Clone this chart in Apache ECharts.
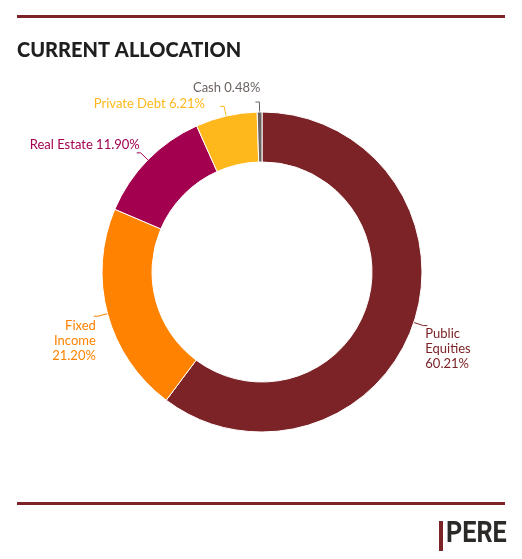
<!DOCTYPE html>
<html>
<head>
<meta charset="utf-8">
<script src="https://cdn.jsdelivr.net/npm/echarts@6/dist/echarts.min.js"></script>
<style>
  html, body { margin: 0; padding: 0; background: #fff; }
  #main { width: 522px; height: 559px; }
</style>
</head>
<body>
<div id="main"></div>
<script>
var categories = ['Public Equities', 'Fixed Income', 'Real Estate', 'Private Debt', 'Cash'];
var labelNames = ['Public\nEquities', 'Fixed\nIncome', 'Real Estate', 'Private Debt', 'Cash'];
var labelSep = ['\n', '\n', ' ', ' ', ' '];
var values = [60.21, 21.20, 11.90, 6.21, 0.48];
var colors = ['#7b2327', '#ff8200', '#a3004f', '#ffb81c', '#6b6360'];

// nudges so labels sit where the original placed them
var labelDx = [-7, 7, 8, -10, 10];
var labelDy = [23, 25, -8, -2, -14];

var myChart = echarts.init(document.getElementById('main'));

var pieData = categories.map(function (name, i) {
    return {
        name: name,
        value: values[i],
        itemStyle: { color: colors[i] },
        label: { color: colors[i] },
        labelLine: { lineStyle: { color: colors[i] } }
    };
});

var option = {
    animation: false,
    graphic: [
        { type: 'rect', shape: { x: 17, y: 15, width: 488, height: 3 }, style: { fill: '#7b2327' } },
        { type: 'text', left: 17, top: 41, style: { text: 'CURRENT ALLOCATION', font: '900 20px Lato', fill: '#1f1f1f' } },
        { type: 'rect', shape: { x: 17, y: 502, width: 488, height: 3 }, style: { fill: '#7b2327' } },
        { type: 'rect', shape: { x: 439, y: 521, width: 4, height: 30 }, style: { fill: '#7b2327' } },
        { type: 'text', x: 446, y: 519, scaleX: 0.84, style: { text: 'PERE', font: 'bold 30px Roboto', fill: '#2b2a29' } }
    ],
    series: [{
        type: 'pie',
        center: [262, 272],
        radius: [110, 160],
        startAngle: 90,
        clockwise: true,
        avoidLabelOverlap: false,
        itemStyle: { borderColor: '#fff', borderWidth: 1 },
        label: {
            show: true,
            position: 'outside',
            fontFamily: 'Lato',
            fontSize: 13,
            lineHeight: 15,
            formatter: function (p) {
                var i = p.dataIndex;
                return labelNames[i] + labelSep[i] + values[i].toFixed(2) + '%';
            }
        },
        labelLine: { show: true, length: 10, length2: 4, lineStyle: { width: 1 } },
        labelLayout: function (p) {
            return { hideOverlap: false, dx: labelDx[p.dataIndex], dy: labelDy[p.dataIndex] };
        },
        data: pieData
    }]
};
myChart.setOption(option);
</script>
</body>
</html>
